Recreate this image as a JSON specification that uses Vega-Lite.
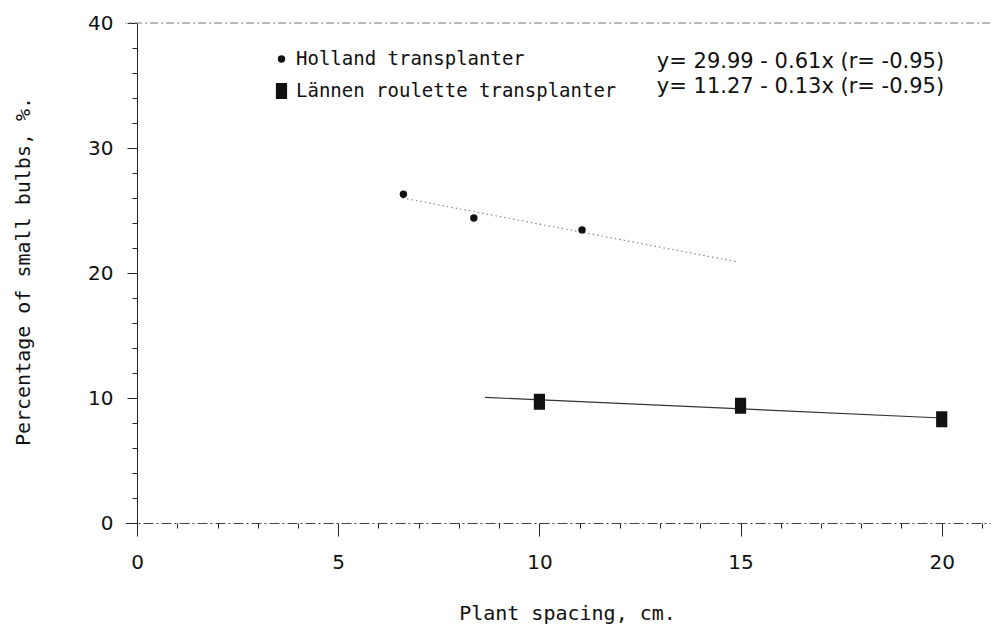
{
  "$schema": "https://vega.github.io/schema/vega-lite/v6.json",
  "autosize": {"type": "none"},
  "padding": {"left": 125, "top": 23, "right": 2, "bottom": 90.5},
  "width": 865,
  "height": 512.5,
  "background": "white",
  "config": {"view": {"stroke": null}, "font": "DejaVu Sans"},
  "datasets": {
    "points": [
      {"series": "Holland transplanter", "spacing": 6.62, "pct": 26.3},
      {"series": "Holland transplanter", "spacing": 8.37, "pct": 24.4},
      {"series": "Holland transplanter", "spacing": 11.06, "pct": 23.45},
      {"series": "Lännen roulette transplanter", "spacing": 10, "pct": 9.7},
      {"series": "Lännen roulette transplanter", "spacing": 15, "pct": 9.38},
      {"series": "Lännen roulette transplanter", "spacing": 20, "pct": 8.3}
    ],
    "fits": [
      {"series": "Holland transplanter", "spacing": 6.6, "pct": 26.0},
      {"series": "Holland transplanter", "spacing": 14.9, "pct": 20.9},
      {"series": "Lännen roulette transplanter", "spacing": 8.65, "pct": 10.05},
      {"series": "Lännen roulette transplanter", "spacing": 20.0, "pct": 8.4}
    ],
    "one": [{"k": 1}]
  },
  "resolve": {"axis": {"x": "independent", "y": "independent"}},
  "layer": [
    {
      "data": {"name": "one"},
      "mark": {"type": "rule", "color": "#777", "strokeWidth": 1, "strokeDash": [8, 3, 2, 3]},
      "encoding": {
        "y": {"datum": 40, "type": "quantitative", "scale": {"domain": [-1, 40], "nice": false, "zero": false}, "axis": null}
      }
    },
    {
      "data": {"name": "fits"},
      "transform": [{"filter": "datum.series == 'Holland transplanter'"}],
      "mark": {"type": "line", "color": "#888", "strokeWidth": 1.2, "strokeDash": [1.5, 3]},
      "encoding": {
        "x": {"field": "spacing", "type": "quantitative", "scale": {"domain": [-0.3, 21.2], "nice": false, "zero": false},
          "axis": {"orient": "bottom", "values": [1,2,3,4,6,7,8,9,11,12,13,14,16,17,18,19,21], "labels": false, "domain": false, "grid": false, "tickSize": 5, "tickColor": "#222", "offset": -12.5, "title": null}},
        "y": {"field": "pct", "type": "quantitative", "scale": {"domain": [-1, 40], "nice": false, "zero": false},
          "axis": {"orient": "left", "values": [2,4,6,8,12,14,16,18,22,24,26,28,32,34,36,38], "labels": false, "domain": false, "grid": false, "tickSize": 5, "tickColor": "#222", "offset": -12, "title": null}}
      }
    },
    {
      "data": {"name": "fits"},
      "transform": [{"filter": "datum.series != 'Holland transplanter'"}],
      "mark": {"type": "line", "color": "#333", "strokeWidth": 1.2},
      "encoding": {
        "x": {"field": "spacing", "type": "quantitative", "axis": null},
        "y": {"field": "pct", "type": "quantitative", "axis": null}
      }
    },
    {
      "data": {"name": "points"},
      "mark": {"type": "point", "filled": true, "opacity": 1, "strokeWidth": 0},
      "encoding": {
        "x": {"field": "spacing", "type": "quantitative",
          "axis": {"orient": "bottom", "values": [0, 5, 10, 15, 20], "grid": false, "tickSize": 13, "tickColor": "#222",
            "domainColor": "#444", "domainDash": [10, 3, 2, 3], "domainWidth": 1, "offset": -12.5,
            "labelFont": "DejaVu Sans", "labelFontSize": 20, "labelColor": "#111", "labelPadding": 16,
            "title": "Plant spacing, cm.", "titleFont": "DejaVu Sans Mono", "titleFontSize": 20, "titleFontWeight": "normal",
            "titleColor": "#111", "titleX": 442, "titleY": 90, "titleBaseline": "middle", "titleAlign": "center"}},
        "y": {"field": "pct", "type": "quantitative",
          "axis": {"orient": "left", "values": [0, 10, 20, 30, 40], "grid": false, "tickSize": 10, "tickColor": "#222",
            "domainColor": "#222", "domainWidth": 1, "offset": -12,
            "labelFont": "DejaVu Sans", "labelFontSize": 20, "labelColor": "#111", "labelPadding": 14,
            "title": "Percentage of small bulbs, %.", "titleFont": "DejaVu Sans Mono", "titleFontSize": 20, "titleFontWeight": "normal",
            "titleColor": "#111", "titleX": -114, "titleY": 248, "titleAngle": -90, "titleAlign": "center", "titleBaseline": "middle"}},
        "color": {"value": "#111"},
        "shape": {"field": "series", "type": "nominal",
          "scale": {"domain": ["Holland transplanter", "Lännen roulette transplanter"], "range": ["circle", "M-0.7,-1L0.7,-1L0.7,1L-0.7,1Z"]},
          "legend": {"orient": "none", "legendX": 147, "legendY": 26.5, "title": null, "padding": 0, "labelOffset": 5,
            "labelFont": "DejaVu Sans Mono", "labelFontSize": 19, "labelColor": "#111", "labelLimit": 0, "rowPadding": 12,
            "symbolFillColor": "#111", "symbolStrokeWidth": 0}},
        "size": {"field": "series", "type": "nominal",
          "scale": {"domain": ["Holland transplanter", "Lännen roulette transplanter"], "range": [55, 256]},
          "legend": {"orient": "none", "legendX": 147, "legendY": 26.5, "title": null, "padding": 0, "labelOffset": 5,
            "labelFont": "DejaVu Sans Mono", "labelFontSize": 19, "labelColor": "#111", "labelLimit": 0, "rowPadding": 12,
            "symbolFillColor": "#111", "symbolStrokeWidth": 0}}
      }
    },
    {
      "data": {"name": "one"},
      "mark": {"type": "text", "font": "DejaVu Sans", "fontSize": 21, "align": "left", "baseline": "middle", "color": "#111"},
      "encoding": {
        "x": {"datum": 12.92, "type": "quantitative", "axis": null},
        "y": {"datum": 36.88, "type": "quantitative", "axis": null},
        "text": {"value": "y= 29.99 - 0.61x (r= -0.95)"}
      }
    },
    {
      "data": {"name": "one"},
      "mark": {"type": "text", "font": "DejaVu Sans", "fontSize": 21, "align": "left", "baseline": "middle", "color": "#111"},
      "encoding": {
        "x": {"datum": 12.92, "type": "quantitative", "axis": null},
        "y": {"datum": 34.88, "type": "quantitative", "axis": null},
        "text": {"value": "y= 11.27 - 0.13x (r= -0.95)"}
      }
    }
  ]
}
